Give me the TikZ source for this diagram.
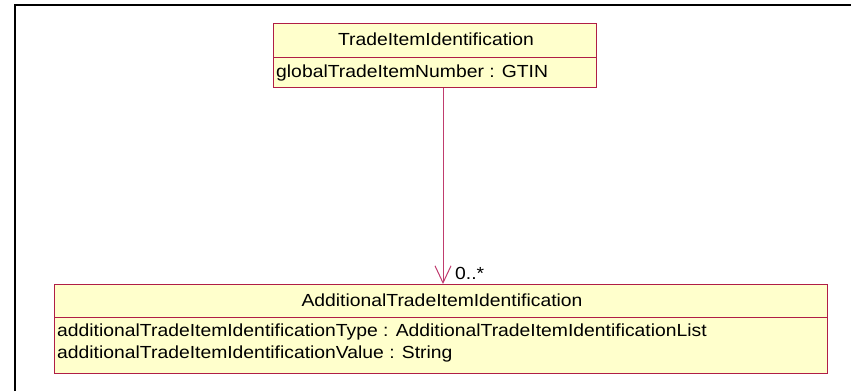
\documentclass[tikz,border=0pt]{standalone}
\usepackage{fontspec}
\setmainfont{Liberation Sans}[FakeStretch=1.105]
\usetikzlibrary{arrows.meta}
\definecolor{umlfill}{RGB}{255,255,204}
\definecolor{umlborder}{RGB}{176,30,70}
\definecolor{umlline}{RGB}{192,60,110}
\begin{document}
\begin{tikzpicture}[x=1pt,y=-1pt,
  classbox/.style={draw=umlborder, fill=umlfill, line width=1.4pt, inner sep=0pt, anchor=north west},
  sep/.style={draw=umlborder, line width=1pt},
  txt/.style={font=\fontsize{17.5}{21.5}\selectfont, inner sep=0pt, anchor=base west},
  assoc/.style={draw=umlline, line width=1pt, -{Straight Barb[length=17pt,width=16pt]}}]
\useasboundingbox (0,0) rectangle (851,391);
\draw[line width=2pt] (15,391) -- (15,5) -- (851,5);
% top class
\node[classbox, minimum width=323pt, minimum height=64pt] (tbox) at (273,23) {};
\draw[sep] ([yshift=-34pt]tbox.north west) -- ([yshift=-34pt]tbox.north east);
\node[txt, anchor=base] (ttitle) at (436,45) {TradeItemIdentification};
\node[txt] (tattr) at (276,77) {globalTradeItemNumber : GTIN};
% bottom class
\node[classbox, minimum width=773pt, minimum height=89pt] (bbox) at (54,284) {};
\draw[sep] ([yshift=-33pt]bbox.north west) -- ([yshift=-33pt]bbox.north east);
\node[txt, anchor=base] (btitle) at (442,306) {AdditionalTradeItemIdentification};
\node[txt] (battr1) at (57,336) {additionalTradeItemIdentificationType : AdditionalTradeItemIdentificationList};
\node[txt] (battr2) at (57,358) {additionalTradeItemIdentificationValue : String};
% association
\coordinate (ax) at (443,0);
\draw[assoc] (tbox.south -| ax) -- (bbox.north -| ax);
\node[txt] (mult) at (455,279) {0..*};
\end{tikzpicture}
\end{document}
